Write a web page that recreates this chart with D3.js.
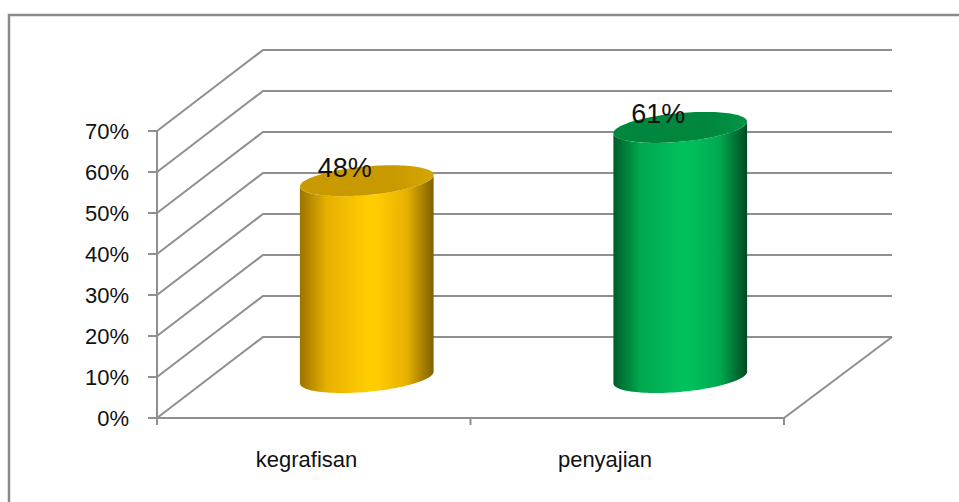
<!DOCTYPE html>
<html>
<head>
<meta charset="utf-8">
<script src="https://cdn.jsdelivr.net/npm/d3@7"></script>
<style>
  html, body { margin: 0; padding: 0; background: #fff; }
  svg { display: block; }
  text { font-family: "Liberation Sans", Arial, sans-serif; }
</style>
</head>
<body>
<svg id="chart" width="959" height="502"></svg>
<script>
// Chart data
const categories = ["kegrafisan", "penyajian"];
const values = [0.48, 0.61];
const valueLabels = ["48%", "61%"];
const tickValues = [0, 0.1, 0.2, 0.3, 0.4, 0.5, 0.6, 0.7];
const tickLabels = ["0%", "10%", "20%", "30%", "40%", "50%", "60%", "70%"];

// Colours for the two cylinders: [edge dark, mid, highlight, right edge, top]
const palettes = [
  { left: "#9a7400", mid: "#e8b000", light: "#ffcc00", right: "#7f6000", top: "#c99a00", topLight: "#d6a600" },
  { left: "#005c2c", mid: "#00a84e", light: "#00c05c", right: "#004a23", top: "#00873e", topLight: "#009446" }
];

const svg = d3.select("#chart");
const gridColor = "#8f8f8f";

// Outer frame
svg.append("path")
  .attr("d", "M9,510 L9,15 L970,15")
  .attr("fill", "none")
  .attr("stroke", "#8a8a8a")
  .attr("stroke-width", 2.5);

// Plot geometry (front plane + oblique depth offset)
const x0 = 157, x1 = 784;
const depth = { dx: 106, dy: -81 };

const y = d3.scaleLinear().domain([0, 0.7]).range([418, 131]);
const x = d3.scaleBand().domain(categories).range([x0, x1]);
const labelX = d3.scalePoint().domain(categories).range([306.5, 605]);

const backRight = 892;

// Back wall gridlines, each running along the side wall then across the back
const grid = svg.append("g").attr("fill", "none").attr("stroke", gridColor).attr("stroke-width", 2);
tickValues.forEach(t => {
  const yf = y(t);
  grid.append("path")
    .attr("d", `M${x0},${yf} L${x0 + depth.dx},${yf + depth.dy} L${backRight},${yf + depth.dy}`);
});
// Floor: right edge and front edge
grid.append("path")
  .attr("d", `M${backRight},${y(0) + depth.dy} L${x1},${y(0)} L${x0},${y(0)}`);

// Value axis line and ticks
const axisG = svg.append("g").attr("stroke", gridColor).attr("stroke-width", 2);
axisG.append("line").attr("x1", x0).attr("x2", x0).attr("y1", y(0.7)).attr("y2", y(0) + 7);
tickValues.forEach(t => {
  axisG.append("line").attr("x1", x0 - 9).attr("x2", x0).attr("y1", y(t)).attr("y2", y(t));
});
// Category ticks
const catTicks = [x0].concat(categories.map(c => x(c) + x.bandwidth()));
catTicks.forEach(px => {
  axisG.append("line").attr("x1", px).attr("x2", px).attr("y1", y(0)).attr("y2", y(0) + 7);
});

// Value tick labels
svg.append("g").selectAll("text")
  .data(tickValues)
  .join("text")
  .attr("x", x0 - 28)
  .attr("y", d => y(d) + 8)
  .attr("text-anchor", "end")
  .attr("font-size", 22)
  .attr("fill", "#111")
  .text((d, i) => tickLabels[i]);

// Category labels
svg.append("g").selectAll("text")
  .data(categories)
  .join("text")
  .attr("x", d => labelX(d))
  .attr("y", 467)
  .attr("text-anchor", "middle")
  .attr("font-size", 22)
  .attr("fill", "#111")
  .text(d => d);

// Cylinders
const R = 62, SX = 25, SY = 15.5;
const mid = { dx: depth.dx / 2, dy: depth.dy / 2 };
const defs = svg.append("defs");

function ellPt(cx, cy, t) {
  return [cx + R * Math.cos(t) + SX * Math.sin(t), cy - SY * Math.sin(t)];
}

const t0 = Math.atan2(SX, R); // rightmost point parameter

categories.forEach((c, i) => {
  const pal = palettes[i];
  const cx = x(c) + x.bandwidth() / 2 + mid.dx;
  const cyTop = y(values[i]) + mid.dy;
  const cyBot = y(0) + mid.dy;

  const bodyId = "body" + i, topId = "top" + i;
  const halfW = Math.sqrt(R * R + SX * SX);
  const bg = defs.append("linearGradient").attr("id", bodyId)
    .attr("gradientUnits", "userSpaceOnUse")
    .attr("x1", cx - halfW).attr("x2", cx + halfW).attr("y1", 0).attr("y2", 0);
  [[0, pal.left], [0.2, pal.mid], [0.5, pal.light], [0.58, pal.light], [0.8, pal.mid], [1, pal.right]]
    .forEach(s => bg.append("stop").attr("offset", s[0]).attr("stop-color", s[1]));

  const tg = defs.append("linearGradient").attr("id", topId)
    .attr("gradientUnits", "userSpaceOnUse")
    .attr("x1", cx - halfW).attr("x2", cx + halfW).attr("y1", 0).attr("y2", 0);
  [[0, pal.top], [0.7, pal.top], [1, pal.topLight]]
    .forEach(s => tg.append("stop").attr("offset", s[0]).attr("stop-color", s[1]));

  // Body outline: left tangent down, front half of bottom ellipse, right tangent up,
  // front half of top ellipse back to the start.
  const n = 60;
  const pts = [];
  for (let k = 0; k <= n; k++) {
    const t = t0 + Math.PI + (Math.PI * k) / n;
    pts.push(ellPt(cx, cyBot, t));
  }
  for (let k = 0; k <= n; k++) {
    const t = t0 + 2 * Math.PI - (Math.PI * k) / n;
    pts.push(ellPt(cx, cyTop, t));
  }
  svg.append("path")
    .attr("d", d3.line()(pts) + "Z")
    .attr("fill", `url(#${bodyId})`);

  // Top cap
  const cap = [];
  for (let k = 0; k <= 120; k++) cap.push(ellPt(cx, cyTop, (2 * Math.PI * k) / 120));
  svg.append("path")
    .attr("d", d3.line()(cap) + "Z")
    .attr("fill", `url(#${topId})`);

  // Value label
  svg.append("text")
    .attr("x", cx - 22)
    .attr("y", cyTop - 4)
    .attr("text-anchor", "middle")
    .attr("font-size", 27)
    .attr("fill", "#111")
    .text(valueLabels[i]);
});
</script>
</body>
</html>
